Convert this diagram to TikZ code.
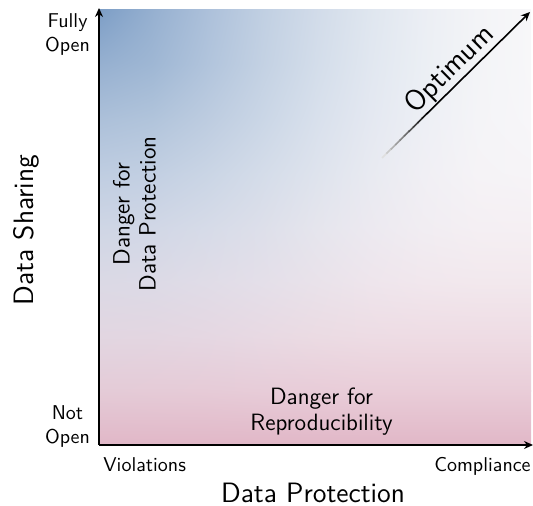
\documentclass[tikz,border=0pt]{standalone}
\usepackage{fontspec}
\usetikzlibrary{arrows.meta,calc,shadings}
\newcommand\mkgradcol[3]{%
  \pgfmathsetmacro\gdd{sqrt((#2)*(#2)+(#3)*(#3))/1.05}%
  \pgfmathsetmacro\gbw{pow(max(0.001,1-\gdd),1.8)}%
  \pgfmathsetmacro\gpw{(#3)*(#3)*(#3)}%
  \pgfmathtruncatemacro\gR{((248*(1-\gpw)+226*\gpw)*(1-\gbw)+125*\gbw)}%
  \pgfmathtruncatemacro\gG{((248*(1-\gpw)+184*\gpw)*(1-\gbw)+158*\gbw)}%
  \pgfmathtruncatemacro\gB{((250*(1-\gpw)+200*\gpw)*(1-\gbw)+198*\gbw)}%
  \definecolor{#1}{RGB}{\gR,\gG,\gB}}
\begin{document}
\begin{tikzpicture}[x=0.5pt,y=-0.5pt,
  axisline/.style={line width=1pt,-{Stealth[length=4.5pt,width=4pt]}},
  optline/.style={line width=0.8pt},
  ticklab/.style={font=\sffamily\fontsize{10}{12}\selectfont,inner sep=0pt,align=center},
  axlab/.style={font=\sffamily\fontsize{14}{16}\selectfont,inner sep=0pt},
  danger/.style={font=\sffamily\fontsize{11.8}{13}\selectfont,inner sep=0pt,align=center}]
\useasboundingbox (0,0) rectangle (533,506);
% background gradient
\begin{scope}
\clip (99,10) rectangle (531,445);
\foreach \i in {0,...,7}{\foreach \j in {0,...,7}{
  \pgfmathsetmacro\ua{\i/8}\pgfmathsetmacro\ub{(\i+1)/8}%
  \pgfmathsetmacro\va{\j/8}\pgfmathsetmacro\vb{(\j+1)/8}%
  \mkgradcol{cul}{\ua}{\va}\mkgradcol{cur}{\ub}{\va}%
  \mkgradcol{cll}{\ua}{\vb}\mkgradcol{clr}{\ub}{\vb}%
  \shade[upper left=cul,upper right=cur,lower left=cll,lower right=clr]
    ({99+432*\ua},{10+435*\va}) rectangle ({99.6+432*\ub},{10.6+435*\vb});
}}
\end{scope}
% axes
\coordinate (O) at (99,445);
\coordinate (Y) at (99,8);
\coordinate (X) at (533,445);
\draw[axisline] (O) -- (Y);
\draw[axisline] (O) -- (X);
% optimum arrow
\coordinate (os) at (382,158);
\coordinate (oe) at (530,12);
\foreach \k in {0,...,9}{
  \pgfmathsetmacro\ta{\k*0.03}\pgfmathsetmacro\tb{(\k+1)*0.03+0.004}%
  \pgfmathtruncatemacro\gv{12+9*\k}%
  \draw[optline,draw=black!\gv] ($(os)!\ta!(oe)$) -- ($(os)!\tb!(oe)$);
}
\coordinate (om) at ($(os)!0.3!(oe)$);
\draw[optline,-{Stealth[length=4.5pt,width=4pt]}] (om) -- (oe);
\path (os) -- (oe) node[pos=0.53,sloped,anchor=south,inner sep=0.6pt,font=\sffamily\fontsize{14.5}{16}\selectfont] (opt) {Optimum};
% labels
\node[ticklab] (fo) at (67.5,35) {Fully\\Open};
\node[ticklab] (no) at (67.5,426) {Not\\Open};
\node[ticklab,anchor=base west] (vi) at (103,471) {Violations};
\node[ticklab,anchor=base east] (co) at (531,471) {Compliance};
\node[axlab,anchor=base] (dp) at (313,502) {Data Protection};
\node[axlab,anchor=base,rotate=90] (ds) at (33,230) {Data Sharing};
\node[danger,rotate=90] (ddp) at (134.5,214) {Danger for\\Data Protection};
\node[danger] (dr) at (321.5,412) {Danger for\\Reproducibility};
\end{tikzpicture}
\end{document}
